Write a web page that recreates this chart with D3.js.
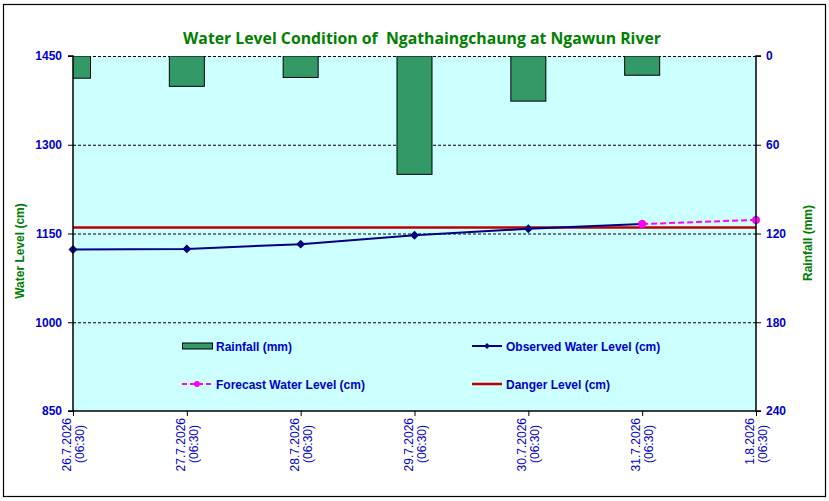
<!DOCTYPE html>
<html><head><meta charset="utf-8">
<script src="https://cdn.jsdelivr.net/npm/d3@7"></script>
<style>
body{margin:0;background:#fff;}
svg{display:block;font-family:"Liberation Sans",Arial,sans-serif;}
</style></head>
<body><svg id="c" width="829" height="501"></svg>
<script>
const dates = ["26.7.2026","27.7.2026","28.7.2026","29.7.2026","30.7.2026","31.7.2026","1.8.2026"];
const times = ["(06:30)","(06:30)","(06:30)","(06:30)","(06:30)","(06:30)","(06:30)"];
const rainfall = [15, 20.5, 14.5, 80, 30.5, 13];
const observed = [1123, 1124, 1132, 1147, 1158, 1166];
const forecastDates = ["31.7.2026","1.8.2026"];
const forecast = [1166, 1173];
const dangerLevel = 1160;
const leftTicks = [850, 1000, 1150, 1300, 1450];
const rightTicks = [0, 60, 120, 180, 240];

const svg = d3.select("#c");
const L = 73, R = 756, T = 56, B = 411;
const blue = "#0000CC", green = "#008000";

// frame
svg.append("rect").attr("x",3.5).attr("y",4.5).attr("width",822).attr("height",492)
  .attr("fill","#fff").attr("stroke","#000").attr("stroke-width",1.2);

const x = d3.scalePoint().domain(dates).range([L, R]);
const yL = d3.scaleLinear().domain([850,1450]).range([B, T]);
const yR = d3.scaleLinear().domain([0,240]).range([T, B]);

// plot area
svg.append("rect").attr("x",L).attr("y",T).attr("width",R-L).attr("height",B-T).attr("fill","#CCFFFF");

// gridlines
svg.append("g").selectAll("line").data(leftTicks.filter(d=>d>850)).join("line")
  .attr("x1",L).attr("x2",R).attr("y1",d=>yL(d)+0.5).attr("y2",d=>yL(d)+0.5)
  .attr("stroke","#000").attr("stroke-width",1).attr("stroke-dasharray","3,2");

// bars
svg.append("clipPath").attr("id","pc").append("rect").attr("x",L).attr("y",T).attr("width",R-L).attr("height",B-T);
const bw = 35;
svg.append("g").attr("clip-path","url(#pc)").selectAll("rect").data(rainfall).join("rect")
  .attr("x",(d,i)=>x(dates[i])-bw/2).attr("y",yR(0)).attr("width",bw)
  .attr("height",d=>yR(d)-yR(0))
  .attr("fill","#339966").attr("stroke","#000").attr("stroke-width",1);

// danger line
svg.append("line").attr("x1",L).attr("x2",R).attr("y1",yL(dangerLevel)).attr("y2",yL(dangerLevel))
  .attr("stroke","#C00000").attr("stroke-width",2.5);

// observed line
const line = d3.line().x(d=>x(d[0])).y(d=>yL(d[1]));
const obsPts = observed.map((v,i)=>[dates[i],v]);
svg.append("path").attr("d",line(obsPts)).attr("fill","none").attr("stroke","#000080").attr("stroke-width",2);
svg.append("g").selectAll("path").data(obsPts).join("path")
  .attr("d",d3.symbol(d3.symbolSquare,40)())
  .attr("transform",d=>`translate(${x(d[0])},${yL(d[1])}) rotate(45)`)
  .attr("fill","#000080");

// forecast
const fPts = forecast.map((v,i)=>[forecastDates[i],v]);
svg.append("path").attr("d",line(fPts)).attr("fill","none").attr("stroke","#FF00FF").attr("stroke-width",2).attr("stroke-dasharray","6,3");
svg.append("g").selectAll("circle").data(fPts).join("circle")
  .attr("cx",d=>x(d[0])).attr("cy",d=>yL(d[1])).attr("r",4).attr("fill","#FF00FF");

// axes
const axL = svg.append("g").attr("transform",`translate(${L},0)`)
  .call(d3.axisLeft(yL).tickValues(leftTicks).tickFormat(d3.format("d")).tickSize(5).tickPadding(6));
const axR = svg.append("g").attr("transform",`translate(${R},0)`)
  .call(d3.axisRight(yR).tickValues(rightTicks).tickFormat(d3.format("d")).tickSize(5).tickPadding(5));
const axB = svg.append("g").attr("transform",`translate(0,${B})`)
  .call(d3.axisBottom(x).tickSize(5).tickFormat(""));
[axL,axR,axB].forEach(a=>{
  a.select(".domain").attr("stroke","#000").attr("stroke-width",1.5);
  a.selectAll(".tick line").attr("stroke","#000");
});
axL.select(".domain").attr("d",`M-5,${T}H0V${B}H-5`);
axR.select(".domain").attr("d",`M5,${T}H0V${B}H5`);
axB.select(".domain").attr("d",`M${L},0H${R}`);
[axL,axR].forEach(a=>a.selectAll(".tick text").attr("fill",blue).attr("font-size",12).attr("font-weight","bold").attr("font-family","Liberation Sans, Arial"));

// x labels
const xl = svg.append("g").selectAll("g").data(dates).join("g")
  .attr("transform",d=>`translate(${x(d)},${B+7}) rotate(-90)`);
xl.append("text").attr("text-anchor","end").attr("x",0).attr("y",-2).attr("fill",blue).attr("font-size",12).text(d=>d);
xl.append("text").attr("text-anchor","end").attr("x",-7).attr("y",11).attr("fill",blue).attr("font-size",12).text((d,i)=>times[i]);

// axis titles
svg.append("text").attr("transform","translate(24,251) rotate(-90)").attr("text-anchor","middle")
  .attr("fill",green).attr("font-size",12).attr("font-weight","bold").text("Water Level (cm)");
svg.append("text").attr("transform","translate(812,243) rotate(-90)").attr("text-anchor","middle")
  .attr("fill",green).attr("font-size",12).attr("font-weight","bold").text("Rainfall (mm)");

// title
svg.append("text").attr("x",422).attr("y",44).attr("text-anchor","middle").attr("fill",green)
  .attr("font-size",15.8).attr("font-weight","bold").attr("font-family","Open Sans, sans-serif")
  .style("white-space","pre").text("Water Level Condition of  Ngathaingchaung at Ngawun River");

// legend
const lg = svg.append("g");
const legendItems = [
  {label:"Rainfall (mm)", type:"bar", x:182, y:346},
  {label:"Observed Water Level (cm)", type:"obs", x:472, y:346},
  {label:"Forecast Water Level (cm)", type:"fc", x:182, y:384},
  {label:"Danger Level (cm)", type:"danger", x:472, y:384}
];
legendItems.forEach(it=>{
  const g = lg.append("g").attr("transform",`translate(${it.x},${it.y})`);
  if(it.type==="bar") g.append("rect").attr("x",0.5).attr("y",-3).attr("width",30).attr("height",6).attr("fill","#339966").attr("stroke","#000");
  if(it.type==="obs"){ g.append("line").attr("x1",0).attr("x2",30).attr("stroke","#000080").attr("stroke-width",2);
    g.append("path").attr("d",d3.symbol(d3.symbolSquare,18)()).attr("transform","translate(15,0) rotate(45)").attr("fill","#000080"); }
  if(it.type==="fc"){ g.append("line").attr("x1",0).attr("x2",30).attr("stroke","#FF00FF").attr("stroke-width",2).attr("stroke-dasharray","5,3");
    g.append("circle").attr("cx",15).attr("r",3).attr("fill","#FF00FF"); }
  if(it.type==="danger") g.append("line").attr("x1",0).attr("x2",30).attr("stroke","#C00000").attr("stroke-width",2.5);
  g.append("text").attr("x",34).attr("y",5).attr("fill",blue).attr("font-size",12).attr("font-weight","bold").text(it.label);
});
</script></body></html>
